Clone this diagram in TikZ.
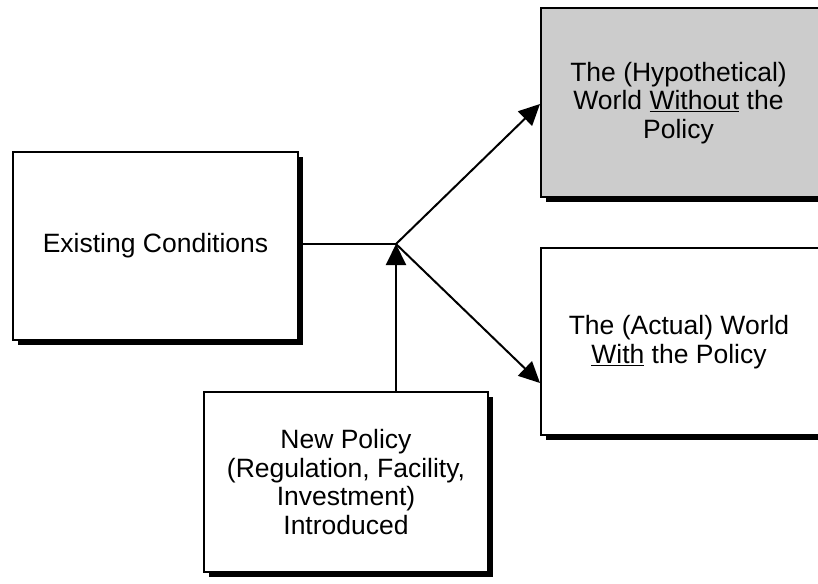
\documentclass[tikz,border=0pt]{standalone}
\usepackage{fontspec}
\setmainfont{Liberation Sans}
\usetikzlibrary{arrows.meta, shadows, positioning, calc}

\tikzset{
  boxtext/.style={align=center, inner sep=0pt, font=\fontsize{26.5}{28.5}\selectfont},
  box/.style={boxtext, draw, line width=2pt, fill=white, minimum height=188pt,
    drop shadow={shadow xshift=5pt, shadow yshift=-5pt, fill=black, opacity=1}},
  flow/.style={line width=2pt, -{Triangle[length=21pt, width=20pt]}},
}

\begin{document}
\begin{tikzpicture}[x=1pt, y=-1pt]
  \useasboundingbox (0,0) rectangle (818,583);
  \clip (0,0) rectangle (818,583);
  % boxes
  \node[box, minimum width=285pt] (existing) at (155.5,246) {Existing Conditions};
  \node[box, minimum width=284pt, minimum height=180pt] (policy) at (346,482)
    {New Policy\\(Regulation, Facility,\\Investment)\\Introduced};
  \node[box, fill=black!20, minimum width=300pt, minimum height=189pt, anchor=west] (without) at (540,102.5) {};
  \node[boxtext] (withouttext) at (678.5,103) {The (Hypothetical)\\World \underline{Without} the\\Policy};
  \node[box, minimum width=300pt, minimum height=187pt, anchor=west] (with) at (540,341.5) {};
  \node[boxtext] (withtext) at (679,342) {The (Actual) World\\\underline{With} the Policy};
  % connectors
  \coordinate (split) at (396,244);
  \draw[line width=2pt] (existing.east |- split) -- (split);
  \draw[flow] (split |- policy.north) -- (split);
  \draw[flow] (split) -- ([yshift=-1.5pt]without.west);
  \draw[flow] (split) -- ([yshift=-41.5pt]with.west);
\end{tikzpicture}
\end{document}
